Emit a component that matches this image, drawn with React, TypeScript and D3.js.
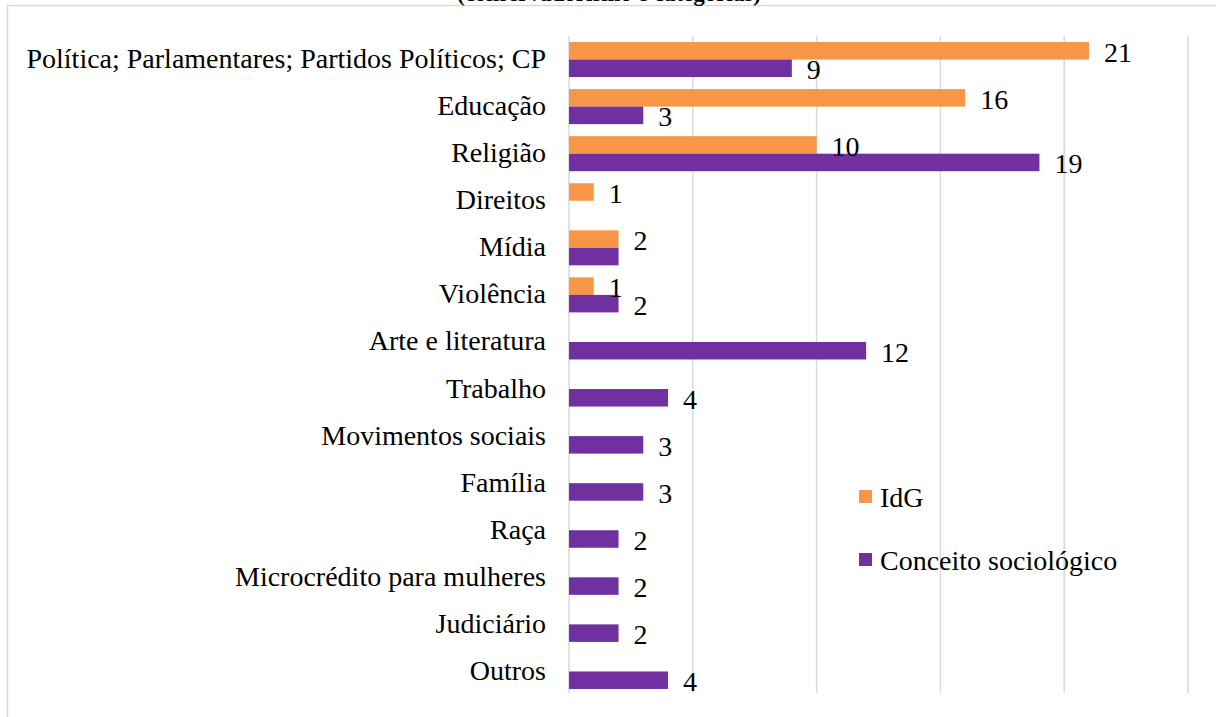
import React from "react";
import * as d3 from "d3";

const categories = [
  "Política; Parlamentares; Partidos Políticos; CP",
  "Educação",
  "Religião",
  "Direitos",
  "Mídia",
  "Violência",
  "Arte e literatura",
  "Trabalho",
  "Movimentos sociais",
  "Família",
  "Raça",
  "Microcrédito para mulheres",
  "Judiciário",
  "Outros",
];
const idgValues: (number | null)[] = [21, 16, 10, 1, 2, 1, null, null, null, null, null, null, null, null];
const conceitoValues: (number | null)[] = [9, 3, 19, null, 2, 2, 12, 4, 3, 3, 2, 2, 2, 4];
const hiddenConceitoLabels = ["Mídia"];
const xTicks = [0, 5, 10, 15, 20, 25];
const seriesNames = ["IdG", "Conceito sociológico"];
const seriesColors = ["#F79646", "#7030A0"];
const titleText = "(conservadorismo e categorias)";

const W = 1216;
const H = 717;
const FONT = "Liberation Serif, Times New Roman, Times, DejaVu Serif, serif";

export default function App() {
  const x = d3.scaleLinear().domain([0, 25]).range([569, 1188]);
  const y = d3.scaleBand<string>().domain(categories).range([36, 695]).paddingInner(0).paddingOuter(0);
  const bw = y.bandwidth();
  const groupPad = bw * 0.128;
  const barH = (bw - 2 * groupPad) / 2;
  const series = [idgValues, conceitoValues];
  const fontSize = 28;
  const textStyle = { fontFamily: FONT, fontSize: fontSize } as React.CSSProperties;

  return (
    <svg width={W} height={H} style={{ position: "absolute", left: 0, top: 0, background: "#fff" }}>
      <rect x={7.5} y={5.5} width={W} height={H} fill="#fff" stroke="#d9d9d9" strokeWidth={1.5} />
      <text x={609} y={1} textAnchor="middle" style={{ fontFamily: FONT, fontSize: 23, fontWeight: "bold" }} fill="#000">
        {titleText}
      </text>
      {xTicks.map((t) => (
        <line key={t} x1={x(t)} x2={x(t)} y1={36} y2={693} stroke="#d9d9d9" strokeWidth={1.5} />
      ))}
      {categories.map((c) => (
        <text
          key={c}
          x={546}
          y={(y(c) as number) + bw / 2 - 1}
          textAnchor="end"
          dominantBaseline="central"
          style={textStyle}
          fill="#000"
        >
          {c}
        </text>
      ))}
      {series.map((vals, si) =>
        categories.map((c, i) => {
          const v = vals[i];
          if (v == null) return null;
          const by = (y(c) as number) + groupPad + si * barH;
          return (
            <rect
              key={si + "-" + c}
              x={x(0)}
              y={by}
              width={x(v) - x(0)}
              height={barH}
              fill={seriesColors[si]}
            />
          );
        })
      )}
      {series.map((vals, si) =>
        categories.map((c, i) => {
          const v = vals[i];
          if (v == null) return null;
          if (si === 1 && hiddenConceitoLabels.includes(c)) return null;
          const by = (y(c) as number) + groupPad + si * barH;
          return (
            <text
              key={"l" + si + "-" + c}
              x={x(v) + 15}
              y={by + barH / 2 + 1.5}
              dominantBaseline="central"
              style={textStyle}
              fill="#000"
            >
              {v}
            </text>
          );
        })
      )}
      {seriesNames.map((s, i) => (
        <g key={s} transform={`translate(859, ${490 + i * 63})`}>
          <rect x={0} y={0} width={13} height={13} fill={seriesColors[i]} />
          <text x={21} y={7} dominantBaseline="central" style={textStyle} fill="#000">
            {s}
          </text>
        </g>
      ))}
    </svg>
  );
}
